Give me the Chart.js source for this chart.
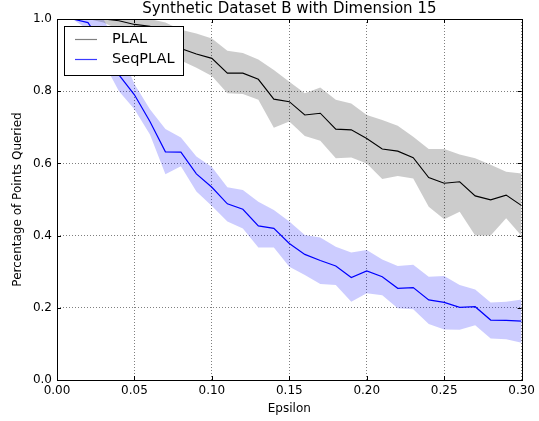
<!DOCTYPE html>
<html>
<head>
<meta charset="utf-8">
<script src="https://cdn.jsdelivr.net/npm/chart.js@4.4.1/dist/chart.umd.min.js"></script>
<style>html,body{margin:0;padding:0;background:#fff;}canvas{display:block;}</style>
</head>
<body>
<canvas id="c" width="539" height="421"></canvas>
<script>
const epsilon = [0.00,0.01,0.02,0.03,0.04,0.05,0.06,0.07,0.08,0.09,0.10,0.11,0.12,0.13,0.14,0.15,0.16,0.17,0.18,0.19,0.20,0.21,0.22,0.23,0.24,0.25,0.26,0.27,0.28,0.29,0.30];
const plalMean  = [1.0,1.0,1.0,1.0,0.995,0.985,0.98,0.96,0.918,0.903,0.891,0.85,0.85,0.833,0.778,0.771,0.734,0.739,0.695,0.693,0.669,0.640,0.634,0.616,0.561,0.545,0.549,0.510,0.499,0.512,0.483];
const plalUpper = [1.0,1.0,1.0,1.0,1.0,1.0,1.0,0.99,0.97,0.96,0.946,0.912,0.906,0.888,0.859,0.826,0.794,0.81,0.776,0.766,0.734,0.72,0.704,0.674,0.64,0.64,0.625,0.614,0.596,0.577,0.572];
const plalLower = [1.0,1.0,1.0,0.99,0.97,0.955,0.945,0.92,0.885,0.865,0.842,0.794,0.792,0.776,0.699,0.716,0.676,0.663,0.614,0.616,0.600,0.557,0.565,0.558,0.480,0.445,0.466,0.40,0.40,0.448,0.399];
const seqMean  = [1.0,1.0,0.99,0.925,0.845,0.79,0.716,0.632,0.631,0.571,0.534,0.488,0.473,0.427,0.42,0.378,0.348,0.331,0.316,0.284,0.302,0.286,0.254,0.256,0.222,0.215,0.201,0.203,0.166,0.165,0.163];
const seqUpper = [1.0,1.0,1.0,1.0,0.92,0.82,0.75,0.695,0.672,0.619,0.59,0.534,0.526,0.494,0.471,0.439,0.402,0.395,0.369,0.353,0.36,0.334,0.316,0.319,0.286,0.288,0.263,0.251,0.215,0.217,0.223];
const seqLower = [1.0,1.0,0.97,0.88,0.80,0.75,0.68,0.57,0.592,0.522,0.482,0.439,0.42,0.367,0.367,0.314,0.291,0.266,0.263,0.217,0.24,0.235,0.199,0.196,0.155,0.14,0.139,0.152,0.115,0.113,0.103];
const xTicks = [0.00,0.05,0.10,0.15,0.20,0.25,0.30];
const yTicks = [0.0,0.2,0.4,0.6,0.8,1.0];
const seriesNames = ["PLAL","SeqPLAL"];
const titleText = "Synthetic Dataset B with Dimension 15";
const xTitle = "Epsilon";
const yTitle = "Percentage of Points Queried";

const pts = arr => arr.map((v,i) => ({x: epsilon[i], y: v}));
const FONT = "'DejaVu Sans', sans-serif";

const framePlugin = {
  id: 'frame',
  afterDatasetsDraw(chart) {
    const {ctx, chartArea: a, scales} = chart;
    ctx.save();
    // inward ticks
    ctx.strokeStyle = '#000'; ctx.lineWidth = 1;
    ctx.beginPath();
    xTicks.forEach(t => {
      const x = Math.round(scales.x.getPixelForValue(t)) + 0.5;
      ctx.moveTo(x, a.bottom); ctx.lineTo(x, a.bottom - 4);
      ctx.moveTo(x, a.top); ctx.lineTo(x, a.top + 4);
    });
    yTicks.forEach(t => {
      const y = Math.round(scales.y.getPixelForValue(t)) + 0.5;
      ctx.moveTo(a.left, y); ctx.lineTo(a.left + 4, y);
      ctx.moveTo(a.right, y); ctx.lineTo(a.right - 4, y);
    });
    ctx.stroke();
    // frame
    ctx.strokeRect(Math.round(a.left)+0.5, Math.round(a.top)+0.5, Math.round(a.right-a.left), Math.round(a.bottom-a.top));
    // title
    ctx.fillStyle = '#000';
    ctx.font = "15px " + FONT;
    ctx.textAlign = 'center';
    ctx.textBaseline = 'middle';
    ctx.fillText(titleText, (a.left + a.right) / 2, 9.5);
    // legend
    const lx = 64.5, ly = 26.5, lw = 119, lh = 49;
    ctx.fillStyle = '#fff';
    ctx.fillRect(lx, ly, lw, lh);
    ctx.strokeStyle = '#000';
    ctx.strokeRect(lx, ly, lw, lh);
    const entries = [[seriesNames[0], '#808080', 39.5], [seriesNames[1], '#3a3aff', 59.5]];
    ctx.font = "14.5px " + FONT;
    ctx.textBaseline = 'middle';
    ctx.textAlign = 'left';
    entries.forEach(([name, col, y]) => {
      ctx.strokeStyle = col; ctx.lineWidth = 1.2;
      ctx.beginPath(); ctx.moveTo(75, y); ctx.lineTo(97, y); ctx.stroke();
      ctx.fillStyle = '#000';
      ctx.fillText(name, 112, y);
    });
    ctx.restore();
  }
};

new Chart(document.getElementById('c'), {
  type: 'line',
  data: {
    datasets: [
      {label: seriesNames[0], data: pts(plalMean), borderColor: '#000', borderWidth: 1.1, pointRadius: 0, fill: false, tension: 0},
      {label: seriesNames[1], data: pts(seqMean), borderColor: '#0000ff', borderWidth: 1.2, pointRadius: 0, fill: false, tension: 0},
      {label: 'plalUpper', data: pts(plalUpper), borderWidth: 0, borderColor: 'rgba(0,0,0,0)', pointRadius: 0, backgroundColor: 'rgba(0,0,0,0.2)', fill: '+1'},
      {label: 'plalLower', data: pts(plalLower), borderWidth: 0, borderColor: 'rgba(0,0,0,0)', pointRadius: 0, fill: false},
      {label: 'seqUpper', data: pts(seqUpper), borderWidth: 0, borderColor: 'rgba(0,0,0,0)', pointRadius: 0, backgroundColor: 'rgba(0,0,255,0.2)', fill: '+1'},
      {label: 'seqLower', data: pts(seqLower), borderWidth: 0, borderColor: 'rgba(0,0,0,0)', pointRadius: 0, fill: false}
    ]
  },
  options: {
    responsive: false,
    animation: false,
    devicePixelRatio: 1,
    layout: {padding: {left: 0, right: 17, top: 19, bottom: 0}},
    plugins: {
      legend: {display: false},
      tooltip: {enabled: false},
      title: {display: false}
    },
    scales: {
      x: {
        type: 'linear', min: 0, max: 0.3,
        afterFit(s) { s.height = 41; },
        afterBuildTicks(s) { s.ticks = xTicks.map(v => ({value: v})); },
        ticks: {color: '#000', font: {family: FONT, size: 12}, padding: 4, maxRotation: 0, callback: v => Number(v).toFixed(2)},
        grid: {color: 'rgba(0,0,0,0.5)', lineWidth: 1, drawTicks: false},
        border: {display: false, dash: [1, 2]},
        title: {display: true, text: xTitle, color: '#000', font: {family: FONT, size: 12}, padding: {top: 0, bottom: 5}}
      },
      y: {
        type: 'linear', min: 0, max: 1,
        afterFit(s) { s.width = 57; },
        afterBuildTicks(s) { s.ticks = yTicks.map(v => ({value: v})); },
        ticks: {color: '#000', font: {family: FONT, size: 12}, padding: 5, callback: v => Number(v).toFixed(1)},
        grid: {color: 'rgba(0,0,0,0.5)', lineWidth: 1, drawTicks: false},
        border: {display: false, dash: [1, 2]},
        title: {display: true, text: yTitle, color: '#000', font: {family: FONT, size: 12}, padding: {top: 11, bottom: 0}}
      }
    }
  },
  plugins: [framePlugin]
});
</script>
</body>
</html>
